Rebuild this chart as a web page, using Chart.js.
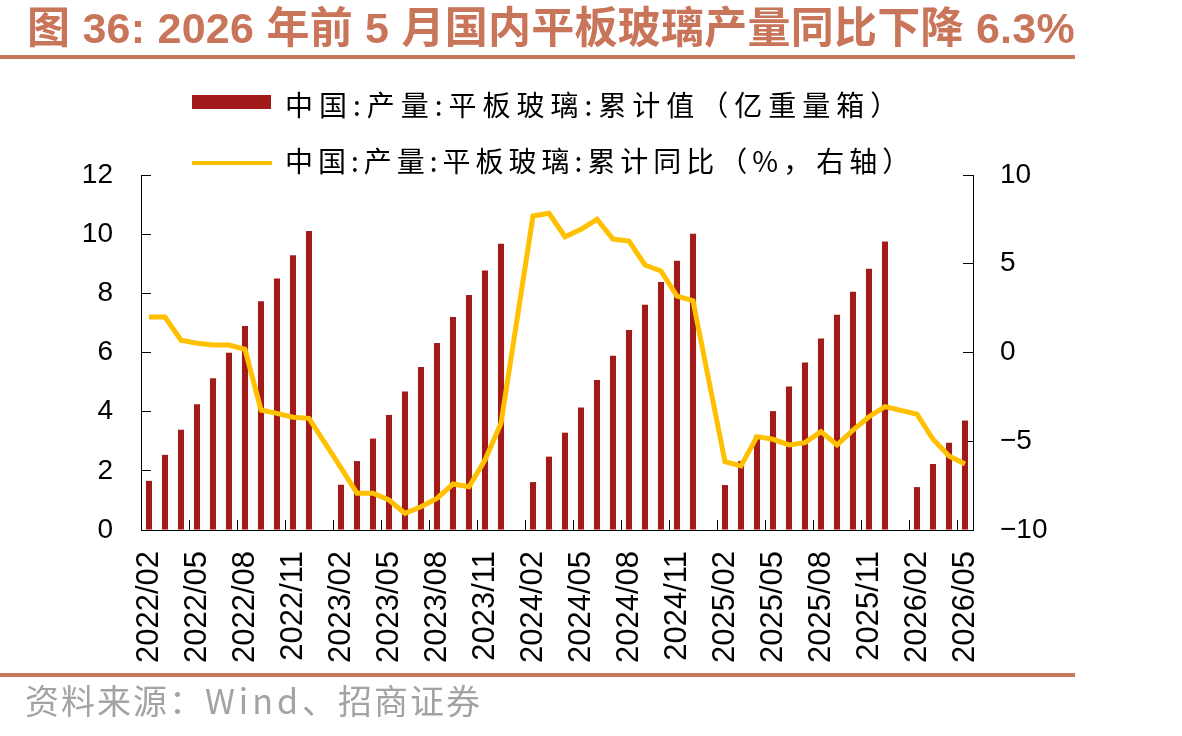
<!DOCTYPE html>
<html>
<head>
<meta charset="utf-8">
<script src="https://cdn.jsdelivr.net/npm/chart.js@4.4.1/dist/chart.umd.min.js"></script>
<style>
  html, body { margin: 0; padding: 0; background: #fff; }
  #page { position: relative; width: 1182px; height: 736px; overflow: hidden; }
  #page canvas { position: absolute; left: 0; top: 0; }
  .t { position: absolute; white-space: nowrap; }
  #title { left: 27px; top: 7px; font: bold 43px/43px "Liberation Sans", "Noto Sans CJK SC", sans-serif; color: #c8755a; letter-spacing: 0.25px; }
  .rule { position: absolute; left: 0; width: 1075px; height: 4px; background: #c8775a; }
  .leg { left: 285px; font: 28px/28px "Noto Sans CJK SC", sans-serif; color: #000; }
  .sw { position: absolute; left: 192px; }
  #source { left: 25px; top: 683px; font: 34px/34px "Noto Sans CJK SC", sans-serif; color: #a3a3a3; letter-spacing: 2px; }
  #source span { letter-spacing: 4px; }
</style>
</head>
<body>
<div id="page">
  <canvas id="chart" width="1182" height="736"></canvas>
  <div class="t" id="title">图 36: 2026 年前 5 月国内平板玻璃产量同比下降 6.3%</div>
  <div class="rule" style="top:55px"></div>
  <div class="sw" style="top:95px;width:79px;height:14px;background:#a31a1a"></div>
  <div class="t leg" style="top:90px;letter-spacing:6px">中国:产量:平板玻璃:累计值（亿重量箱）</div>
  <div class="sw" style="top:161px;width:80px;height:4px;background:#ffc000"></div>
  <div class="t leg" style="top:146px;letter-spacing:5px">中国:产量:平板玻璃:累计同比（%，右轴）</div>
  <div class="rule" style="top:673px"></div>
  <div class="t" id="source">资料来源：<span>Wind</span>、招商证券</div>
</div>
<script>
const months = [
  '2022/02','2022/03','2022/04','2022/05','2022/06','2022/07','2022/08','2022/09','2022/10','2022/11','2022/12',
  '2023/01','2023/02','2023/03','2023/04','2023/05','2023/06','2023/07','2023/08','2023/09','2023/10','2023/11','2023/12',
  '2024/01','2024/02','2024/03','2024/04','2024/05','2024/06','2024/07','2024/08','2024/09','2024/10','2024/11','2024/12',
  '2025/01','2025/02','2025/03','2025/04','2025/05','2025/06','2025/07','2025/08','2025/09','2025/10','2025/11','2025/12',
  '2026/01','2026/02','2026/03','2026/04','2026/05'
];

// 累计值，亿重量箱（1月无数据）
const output = [
  1.66, 2.54, 3.39, 4.25, 5.13, 5.99, 6.90, 7.73, 8.50, 9.29, 10.11,
  null, 1.53, 2.33, 3.09, 3.89, 4.68, 5.51, 6.32, 7.20, 7.94, 8.77, 9.68,
  null, 1.62, 2.48, 3.29, 4.14, 5.07, 5.89, 6.76, 7.61, 8.38, 9.10, 10.01,
  null, 1.52, 2.33, 3.19, 4.02, 4.85, 5.66, 6.47, 7.28, 8.05, 8.83, 9.75,
  null, 1.45, 2.23, 2.95, 3.70
];

// 累计同比，%（右轴）
const yoy = [
  2.0, 2.0, 0.69, 0.52, 0.42, 0.42, 0.18, -3.24, -3.43, -3.65, -3.71,
  null, -6.5, -7.93, -7.93, -8.31, -9.06, -8.69, -8.22, -7.41, -7.56, -6.06, -3.99,
  null, 7.69, 7.84, 6.52, 6.94, 7.50, 6.39, 6.28, 4.93, 4.59, 3.18, 2.92,
  null, -6.15, -6.39, -4.74, -4.89, -5.21, -5.08, -4.46, -5.21, -4.37, -3.62, -3.05,
  null, -3.48, -4.89, -5.83, -6.28
];

const leftTicks = { min: 0, max: 12, step: 2 };
const rightTicks = { min: -10, max: 10, step: 5 };

const tickFont = { family: 'Liberation Sans', size: 28 };

new Chart(document.getElementById('chart'), {
  data: {
    labels: months,
    datasets: [
      {
        type: 'line',
        label: '中国:产量:平板玻璃:累计同比（%，右轴）',
        data: yoy,
        yAxisID: 'y1',
        borderColor: '#ffc000',
        borderWidth: 5,
        pointRadius: 0,
        spanGaps: true,
        tension: 0,
        order: 0
      },
      {
        type: 'bar',
        label: '中国:产量:平板玻璃:累计值（亿重量箱）',
        data: output,
        yAxisID: 'y',
        backgroundColor: '#a31a1a',
        categoryPercentage: 1,
        barPercentage: 0.38,
        order: 1
      }
    ]
  },
  options: {
    responsive: false,
    animation: false,
    devicePixelRatio: 1,
    layout: { padding: { left: 81, right: 129, top: 175, bottom: 66 } },
    plugins: { legend: { display: false }, tooltip: { enabled: false } },
    scales: {
      x: {
        offset: true,
        grid: {
          offset: true,
          drawOnChartArea: false,
          tickLength: -10,
          color: (c) => (c.index % 3 === 0 ? '#000' : 'rgba(0,0,0,0)')
        },
        border: { color: '#000', width: 1 },
        ticks: {
          autoSkip: false,
          minRotation: 90,
          maxRotation: 90,
          padding: 31,
          color: '#000',
          font: { family: 'Liberation Sans', size: 31 },
          callback: (v, i) => (i % 3 === 0 ? months[i] : '')
        },
        afterFit: (s) => { s.height = 140; }
      },
      y: {
        position: 'left',
        min: leftTicks.min,
        max: leftTicks.max,
        grid: { drawOnChartArea: false, tickLength: -10, color: '#000' },
        border: { color: '#000' },
        ticks: { stepSize: leftTicks.step, padding: 38, color: '#000', font: tickFont },
        afterFit: (s) => { s.width = 60; }
      },
      y1: {
        position: 'right',
        min: rightTicks.min,
        max: rightTicks.max,
        grid: { drawOnChartArea: false, tickLength: -10, color: '#000' },
        border: { color: '#000' },
        ticks: {
          stepSize: rightTicks.step,
          padding: 37,
          color: '#000',
          font: tickFont,
          callback: (v) => String(v).replace('-', '\u2212')
        },
        afterFit: (s) => { s.width = 80; }
      }
    }
  }
});
</script>
</body>
</html>
